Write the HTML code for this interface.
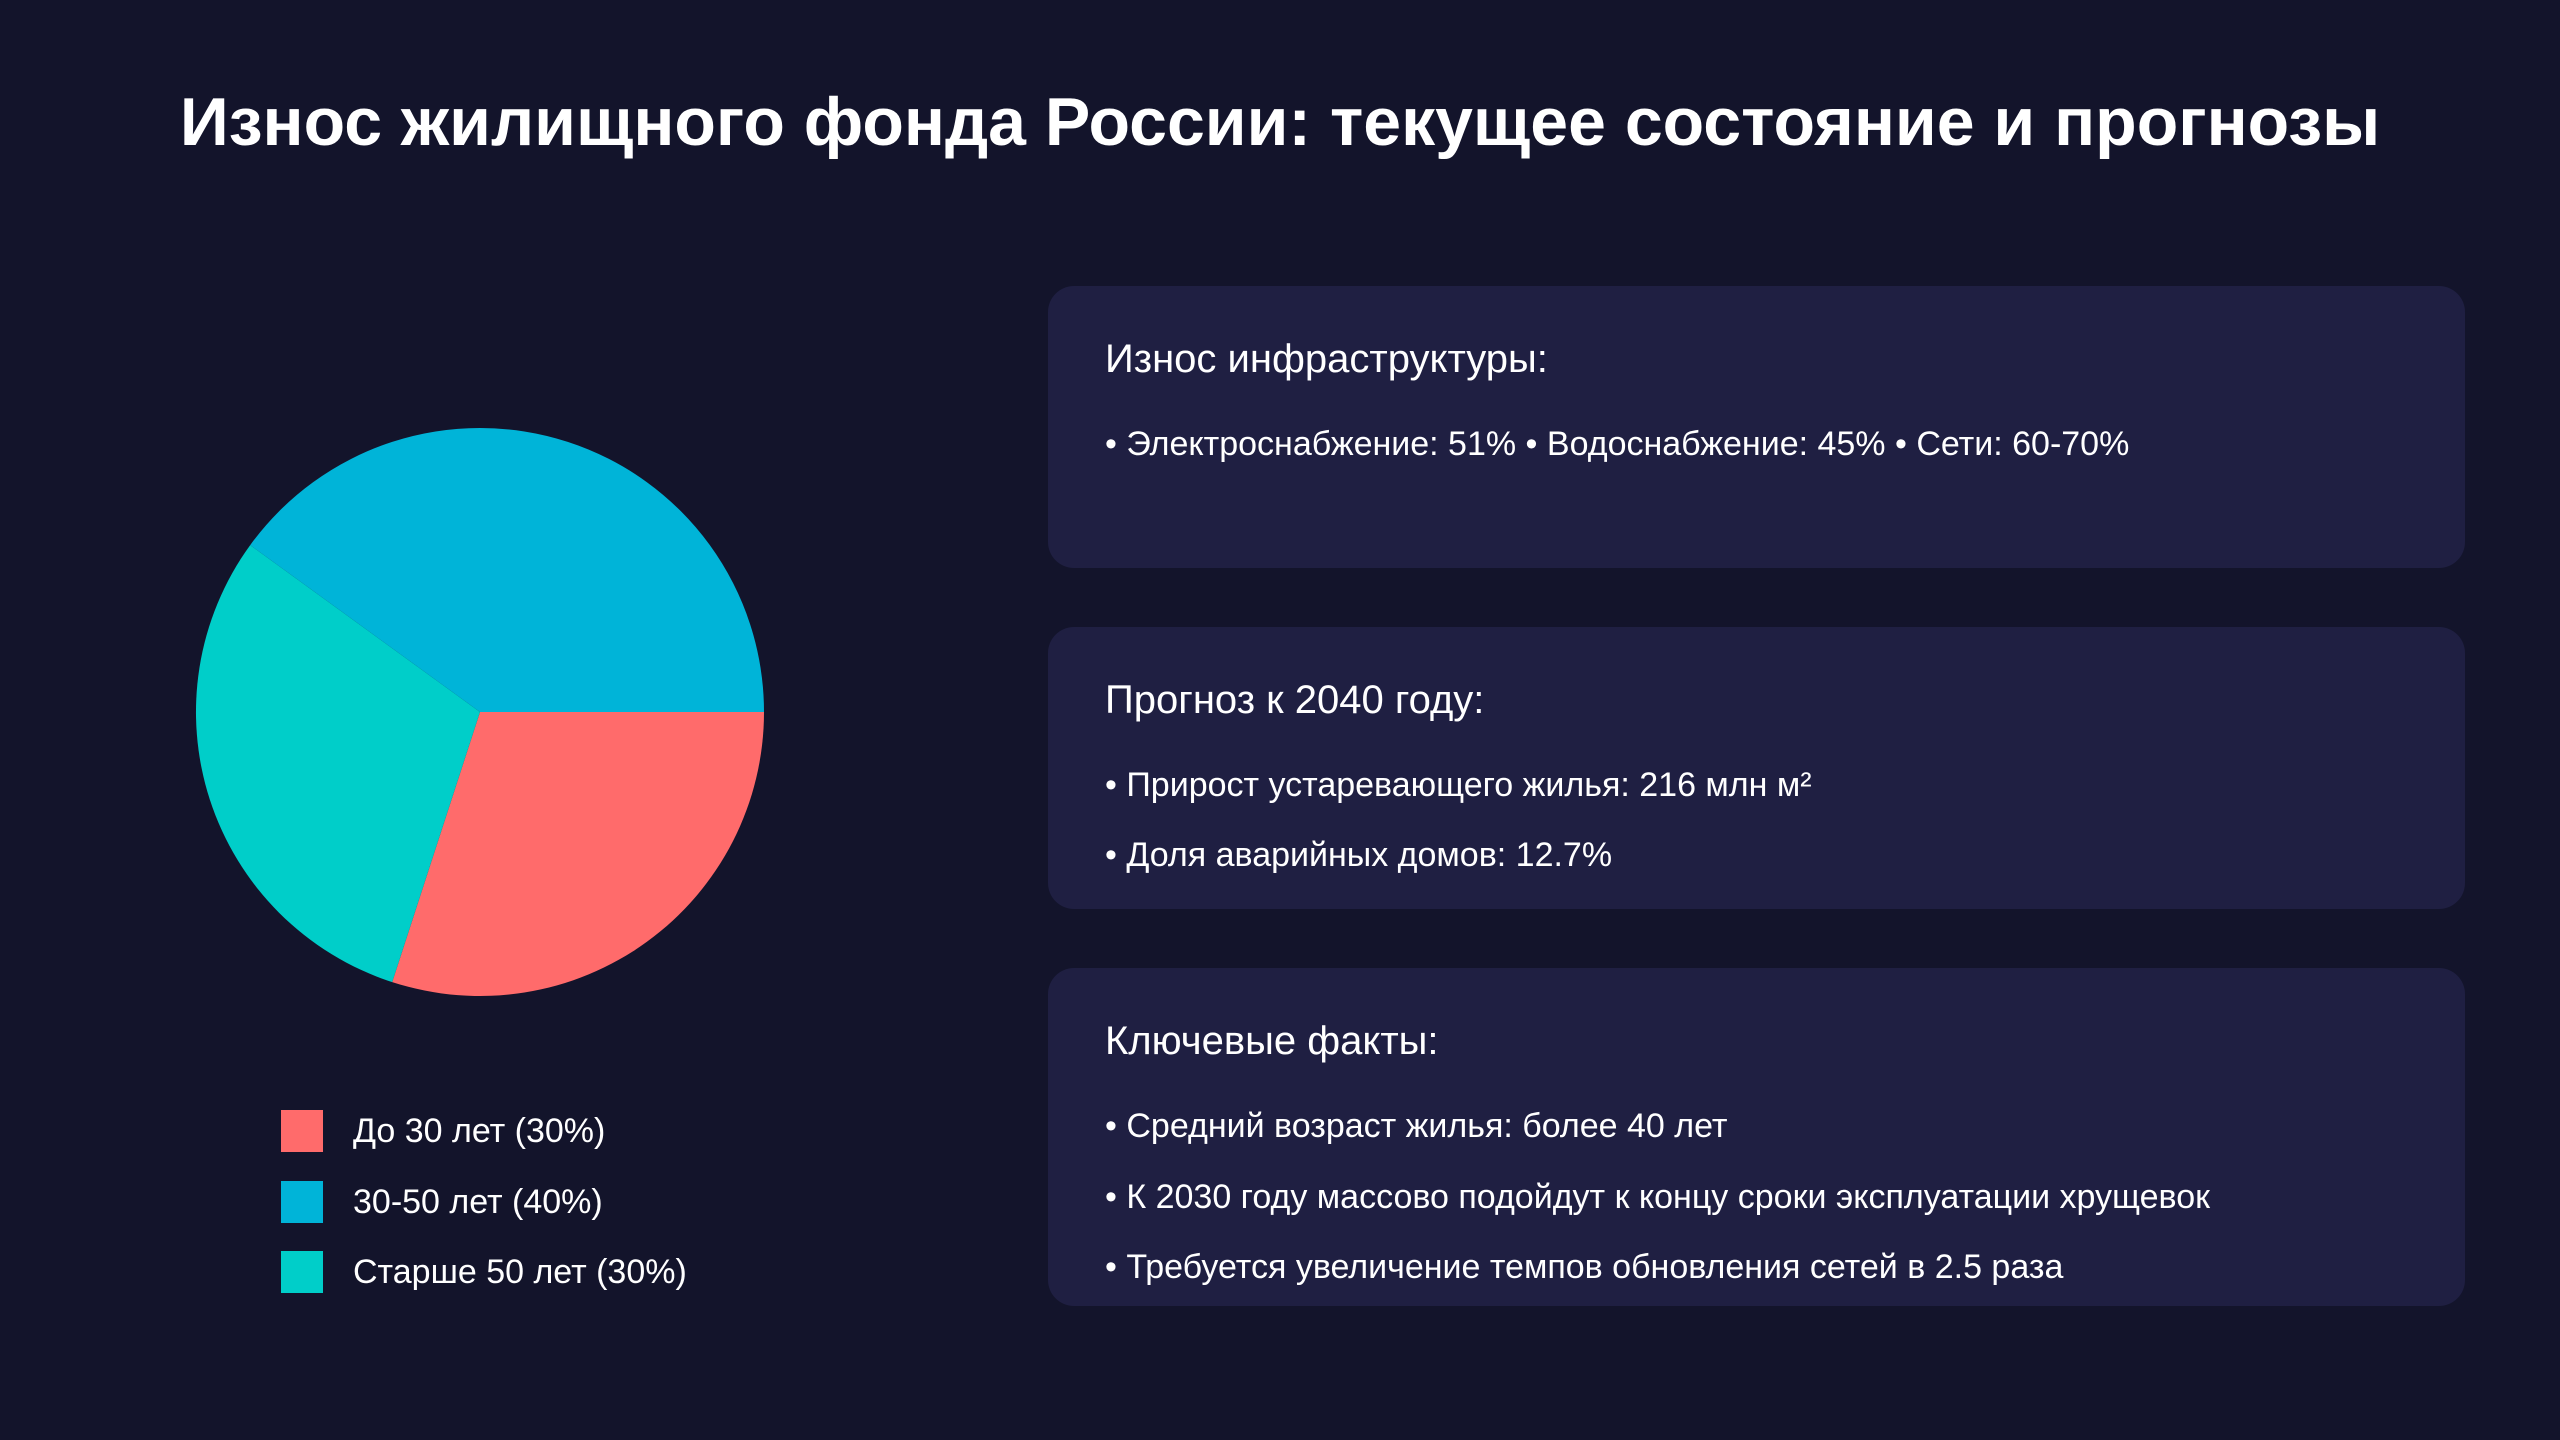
<!DOCTYPE html>
<html><head><meta charset="utf-8"><style>
html,body{margin:0;padding:0;}
body{width:2560px;height:1440px;background:#13142b;position:relative;overflow:hidden;font-family:"Liberation Sans","DejaVu Sans",sans-serif;color:#fff;}
.t{position:absolute;white-space:nowrap;line-height:1;}
h1{position:absolute;left:0;width:2560px;top:88px;margin:0;text-align:center;font-size:68px;font-weight:bold;line-height:1;}
.card{position:absolute;left:1048px;width:1417px;background:#1f1f42;border-radius:26px;}
.hd{font-size:40px;}
.b{font-size:34px;}
.sq{position:absolute;left:281px;width:42px;height:42px;}
</style></head><body>
<h1>Износ жилищного фонда России: текущее состояние и прогнозы</h1>
<svg style="position:absolute;left:0;top:0" width="1000" height="1440">
<g transform="translate(480,712)">
<path d="M0 0 L284 0 A284 284 0 0 1 -87.8 270.1 Z" fill="#ff6b6b"/>
<path d="M0 0 L-87.8 270.1 A284 284 0 0 1 -229.8 -166.9 Z" fill="#00cec9"/>
<path d="M0 0 L-229.8 -166.9 A284 284 0 0 1 284 0 Z" fill="#00b4d8"/>
</g></svg>
<div class="sq" style="top:1110px;background:#ff6b6b"></div>
<div class="sq" style="top:1181px;background:#00b4d8"></div>
<div class="sq" style="top:1251px;background:#00cec9"></div>
<div class="t b" style="left:353px;top:1114px">До 30 лет (30%)</div>
<div class="t b" style="left:353px;top:1185px">30-50 лет (40%)</div>
<div class="t b" style="left:353px;top:1255px">Старше 50 лет (30%)</div>

<div class="card" style="top:286px;height:282px"></div>
<div class="card" style="top:627px;height:282px"></div>
<div class="card" style="top:968px;height:338px"></div>

<div class="t hd" style="left:1105px;top:339px">Износ инфраструктуры:</div>
<div class="t b" style="left:1105px;top:427px">• Электроснабжение: 51% • Водоснабжение: 45% • Сети: 60-70%</div>

<div class="t hd" style="left:1105px;top:680px">Прогноз к 2040 году:</div>
<div class="t b" style="left:1105px;top:768px">• Прирост устаревающего жилья: 216 млн м²</div>
<div class="t b" style="left:1105px;top:838px">• Доля аварийных домов: 12.7%</div>

<div class="t hd" style="left:1105px;top:1021px">Ключевые факты:</div>
<div class="t b" style="left:1105px;top:1109px">• Средний возраст жилья: более 40 лет</div>
<div class="t b" style="left:1105px;top:1180px">• К 2030 году массово подойдут к концу сроки эксплуатации хрущевок</div>
<div class="t b" style="left:1105px;top:1250px">• Требуется увеличение темпов обновления сетей в 2.5 раза</div>
</body></html>
